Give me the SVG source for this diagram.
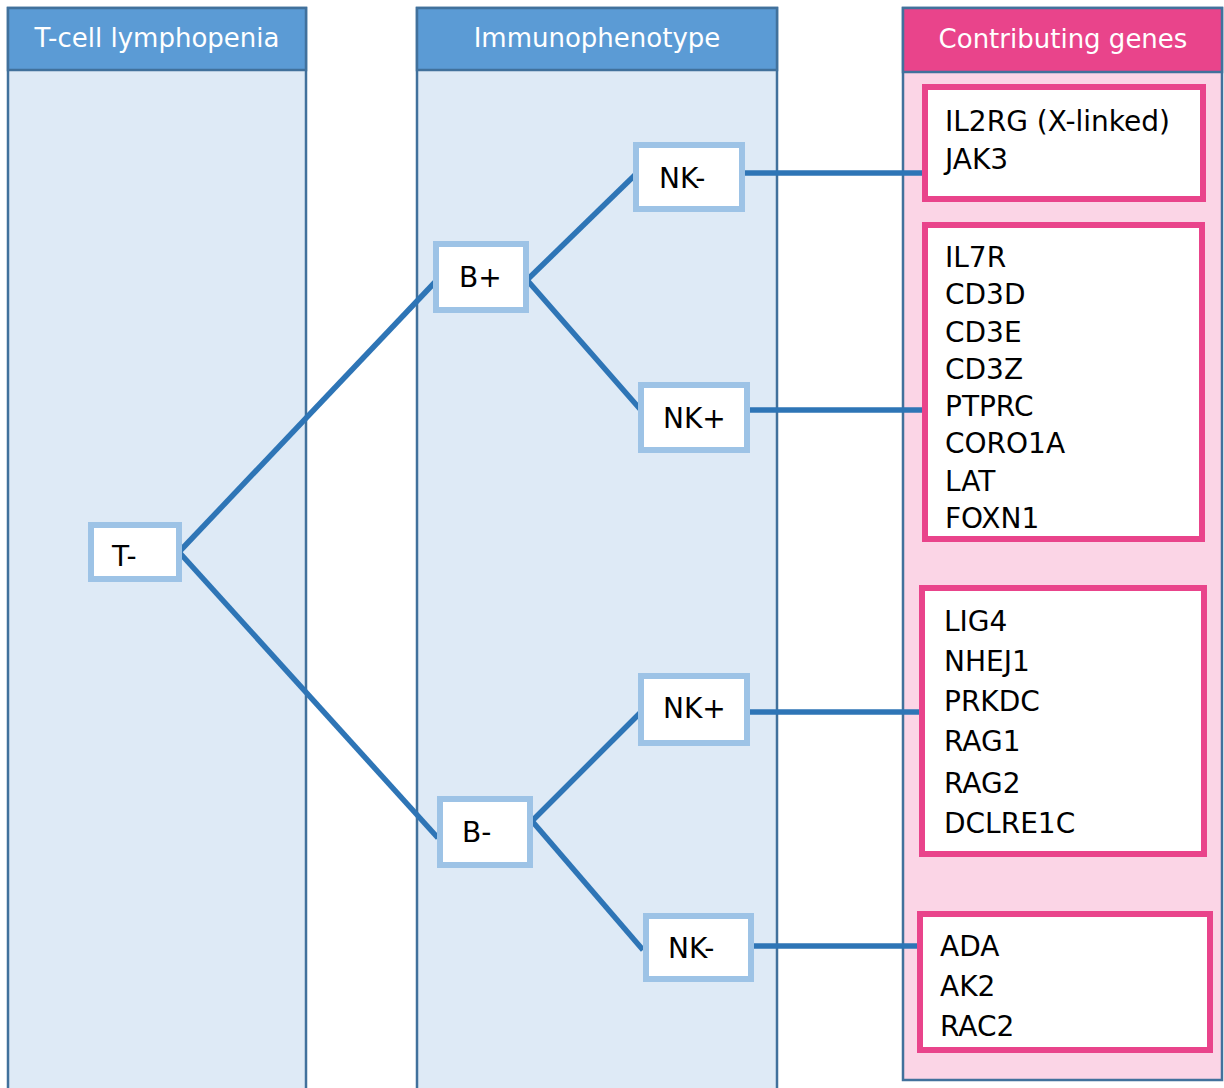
<svg xmlns="http://www.w3.org/2000/svg" width="1224" height="1088" viewBox="0 0 1224 1088">
<style>
.col{fill:#deeaf6;stroke:#41719c;stroke-width:2.5}
.colp{fill:#fbd5e6;stroke:#41719c;stroke-width:2.5}
.hdr{fill:#5b9bd5;stroke:#41719c;stroke-width:2.5}
.hdrp{fill:#e9448b;stroke:#41719c;stroke-width:2.5}
.htxt{font-family:"DejaVu Sans",Verdana,sans-serif;font-size:26px;fill:#ffffff;text-anchor:middle}
.node{fill:#ffffff;stroke:#9dc3e6;stroke-width:6}
.gene{fill:#ffffff;stroke:#e9448b;stroke-width:6}
.txt{font-family:"DejaVu Sans",Verdana,sans-serif;font-size:28px;fill:#000000}
.conn{stroke:#2e75b6;stroke-width:5.5;fill:none;stroke-linecap:butt}
</style>
<rect width="1224" height="1088" fill="#ffffff"/>
<g id="col-tcell">
<rect class="col" x="8" y="8" width="298" height="1090"/>
<rect class="hdr" x="8" y="8" width="298" height="62"/>
<text class="htxt" x="157" y="47">T-cell lymphopenia</text>
</g>
<g id="col-immuno">
<rect class="col" x="417" y="8" width="360" height="1090"/>
<rect class="hdr" x="417" y="8" width="360" height="62"/>
<text class="htxt" x="597" y="47">Immunophenotype</text>
</g>
<g id="col-genes">
<rect class="colp" x="903" y="8" width="319" height="1072"/>
<rect class="hdrp" x="903" y="8" width="319" height="64"/>
<text class="htxt" x="1063" y="48">Contributing genes</text>
</g>
<g id="connectors">
<line class="conn" x1="179" y1="552" x2="437" y2="280"/>
<line class="conn" x1="179" y1="552" x2="438" y2="838"/>
<line class="conn" x1="527" y1="280" x2="637" y2="173"/>
<line class="conn" x1="527" y1="280" x2="640" y2="409"/>
<line class="conn" x1="532" y1="821" x2="640" y2="713"/>
<line class="conn" x1="532" y1="821" x2="643" y2="950"/>
<line class="conn" x1="741" y1="173" x2="922" y2="173"/>
<line class="conn" x1="750" y1="410" x2="922" y2="410"/>
<line class="conn" x1="750" y1="712" x2="919" y2="712"/>
<line class="conn" x1="754" y1="946" x2="917" y2="946"/>
</g>
<g id="node-t">
<rect class="node" x="91" y="525" width="88" height="54"/>
<text class="txt" x="112" y="566">T-</text>
</g>
<g id="node-bplus">
<rect class="node" x="436" y="244" width="90" height="66"/>
<text class="txt" x="459" y="287">B+</text>
</g>
<g id="node-bminus">
<rect class="node" x="440" y="799" width="90" height="66"/>
<text class="txt" x="462" y="842">B-</text>
</g>
<g id="node-nkminus-1">
<rect class="node" x="636" y="145" width="106" height="64"/>
<text class="txt" x="659" y="188">NK-</text>
</g>
<g id="node-nkplus-1">
<rect class="node" x="641" y="385" width="106" height="65"/>
<text class="txt" x="663" y="428">NK+</text>
</g>
<g id="node-nkplus-2">
<rect class="node" x="641" y="676" width="106" height="67"/>
<text class="txt" x="663" y="718">NK+</text>
</g>
<g id="node-nkminus-2">
<rect class="node" x="646" y="916" width="105" height="63"/>
<text class="txt" x="668" y="958">NK-</text>
</g>
<g id="genes-1">
<rect class="gene" x="925" y="87" width="278" height="112"/>
<text class="txt" x="945" y="131">IL2RG (X-linked)</text>
<text class="txt" x="945" y="169">JAK3</text>
</g>
<g id="genes-2">
<rect class="gene" x="925" y="225" width="277" height="314"/>
<text class="txt" x="945" y="267">IL7R</text>
<text class="txt" x="945" y="304">CD3D</text>
<text class="txt" x="945" y="342">CD3E</text>
<text class="txt" x="945" y="379">CD3Z</text>
<text class="txt" x="945" y="416">PTPRC</text>
<text class="txt" x="945" y="453">CORO1A</text>
<text class="txt" x="945" y="491">LAT</text>
<text class="txt" x="945" y="528">FOXN1</text>
</g>
<g id="genes-3">
<rect class="gene" x="922" y="588" width="282" height="266"/>
<text class="txt" x="944" y="631">LIG4</text>
<text class="txt" x="944" y="671">NHEJ1</text>
<text class="txt" x="944" y="711">PRKDC</text>
<text class="txt" x="944" y="751">RAG1</text>
<text class="txt" x="944" y="793">RAG2</text>
<text class="txt" x="944" y="833">DCLRE1C</text>
</g>
<g id="genes-4">
<rect class="gene" x="920" y="914" width="290" height="136"/>
<text class="txt" x="940" y="956">ADA</text>
<text class="txt" x="940" y="996">AK2</text>
<text class="txt" x="940" y="1036">RAC2</text>
</g>
</svg>
